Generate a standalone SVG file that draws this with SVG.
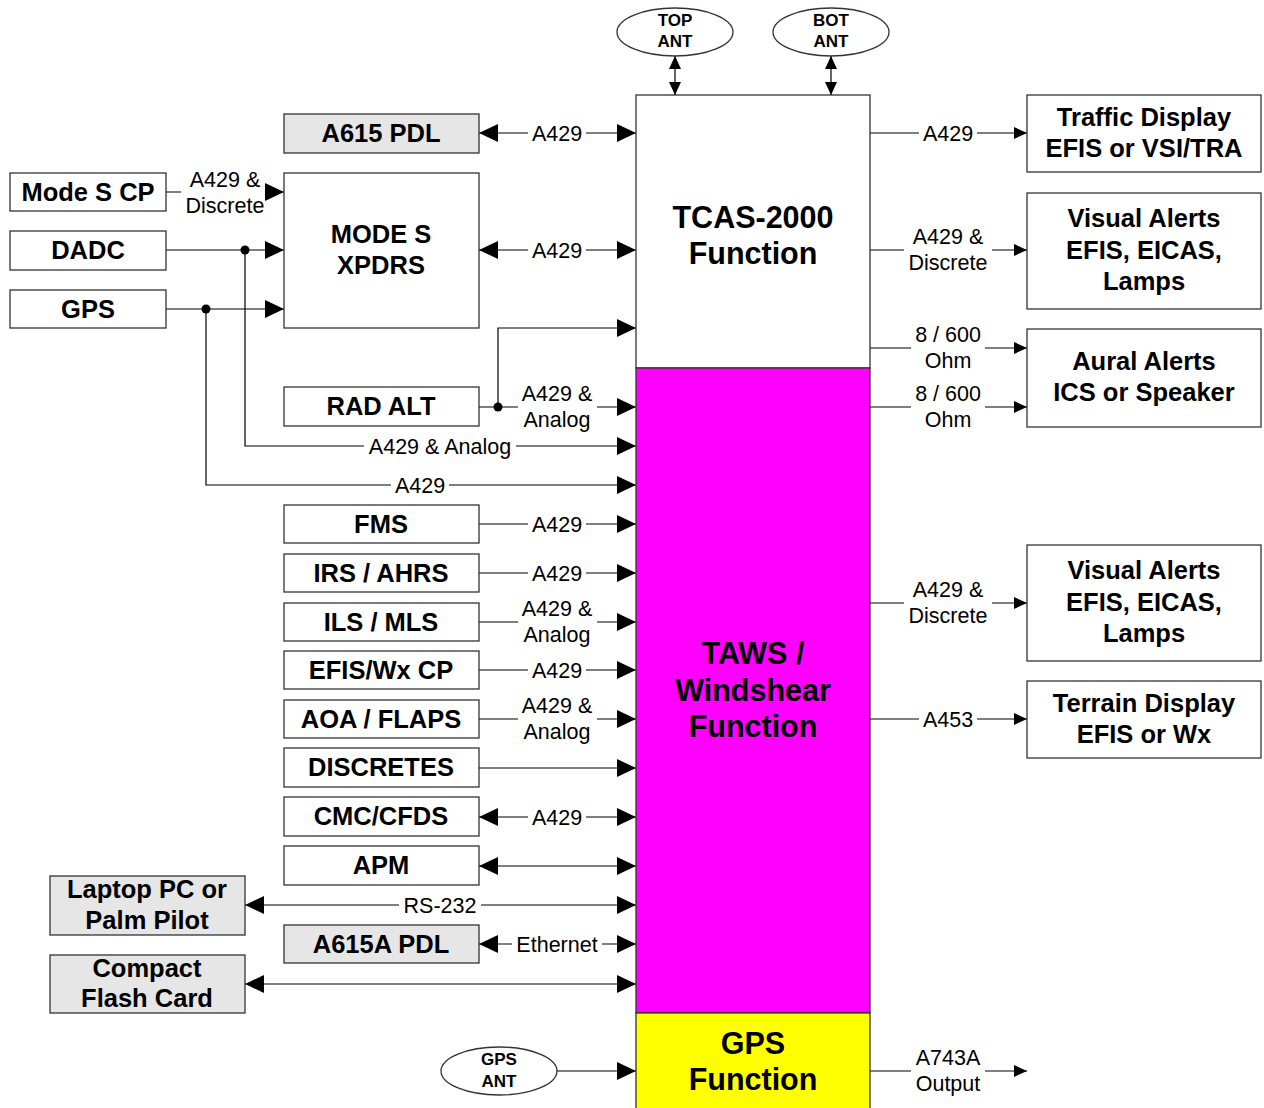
<svg xmlns="http://www.w3.org/2000/svg" width="1264" height="1108" viewBox="0 0 1264 1108">
<style>
.box{fill:#fff;stroke:#333;stroke-width:1.3}
.gbox{fill:#e6e6e6;stroke:#333;stroke-width:1.3}
.bt{font-family:"Liberation Sans",Arial,sans-serif;font-weight:bold;font-size:25.5px;text-anchor:middle;fill:#000}
.ct{font-family:"Liberation Sans",Arial,sans-serif;font-weight:bold;font-size:30.5px;text-anchor:middle;fill:#000}
.et{font-family:"Liberation Sans",Arial,sans-serif;font-weight:bold;font-size:17px;text-anchor:middle;fill:#000}
.lt{font-family:"Liberation Sans",Arial,sans-serif;font-size:21.5px;text-anchor:middle;fill:#000}
.bg{fill:#fff}
.ln{fill:none;stroke:#000;stroke-width:1.2}
.a{marker-end:url(#arr)}
.aa{marker-end:url(#arr);marker-start:url(#arr)}
.s{marker-end:url(#arrS)}
.ss{marker-end:url(#arrS);marker-start:url(#arrS)}
</style>
<defs>
<marker id="arr" markerUnits="userSpaceOnUse" markerWidth="19" markerHeight="18" refX="19" refY="9" orient="auto-start-reverse"><path d="M0,0 L19,9 L0,18 z" fill="#000"/></marker>
<marker id="arrS" markerUnits="userSpaceOnUse" markerWidth="13" markerHeight="12" refX="13" refY="6" orient="auto-start-reverse"><path d="M0,0 L13,6 L0,12 z" fill="#000"/></marker>
</defs>
<rect width="1264" height="1108" fill="#fff"/>

<g id="connectors">
<line class="ln aa" x1="479" y1="133" x2="636" y2="133"/>
<line class="ln a" x1="166" y1="192" x2="284" y2="192"/>
<line class="ln a" x1="166" y1="250" x2="284" y2="250"/>
<line class="ln a" x1="166" y1="309" x2="284" y2="309"/>
<polyline class="ln a" points="245,250 245,446 636,446"/>
<polyline class="ln a" points="206,309 206,485 636,485"/>
<circle cx="245" cy="250" r="4.5" fill="#000"/>
<circle cx="206" cy="309" r="4.5" fill="#000"/>
<line class="ln aa" x1="479" y1="250" x2="636" y2="250"/>
<line class="ln a" x1="479" y1="407" x2="636" y2="407"/>
<polyline class="ln a" points="498,407 498,328 636,328"/>
<circle cx="498" cy="407" r="4.5" fill="#000"/>
<line class="ln a" x1="479" y1="524" x2="636" y2="524"/>
<line class="ln a" x1="479" y1="573" x2="636" y2="573"/>
<line class="ln a" x1="479" y1="622" x2="636" y2="622"/>
<line class="ln a" x1="479" y1="670" x2="636" y2="670"/>
<line class="ln a" x1="479" y1="719" x2="636" y2="719"/>
<line class="ln a" x1="479" y1="768" x2="636" y2="768"/>
<line class="ln aa" x1="479" y1="817" x2="636" y2="817"/>
<line class="ln aa" x1="479" y1="866" x2="636" y2="866"/>
<line class="ln aa" x1="245" y1="905" x2="636" y2="905"/>
<line class="ln aa" x1="479" y1="944" x2="636" y2="944"/>
<line class="ln aa" x1="245" y1="984" x2="636" y2="984"/>
<line class="ln a" x1="557" y1="1071" x2="636" y2="1071"/>
<line class="ln ss" x1="675" y1="56" x2="675" y2="95"/>
<line class="ln ss" x1="831" y1="56" x2="831" y2="95"/>
<line class="ln s" x1="870" y1="133" x2="1027" y2="133"/>
<line class="ln s" x1="870" y1="250" x2="1027" y2="250"/>
<line class="ln s" x1="870" y1="348" x2="1027" y2="348"/>
<line class="ln s" x1="870" y1="407" x2="1027" y2="407"/>
<line class="ln s" x1="870" y1="603" x2="1027" y2="603"/>
<line class="ln s" x1="870" y1="719" x2="1027" y2="719"/>
<line class="ln s" x1="870" y1="1071" x2="1027" y2="1071"/>

<rect class="bg" x="528" y="130" width="58" height="6"/>
<rect class="bg" x="181" y="189" width="84" height="6"/>
<rect class="bg" x="528" y="247" width="58" height="6"/>
<rect class="bg" x="518" y="404" width="79" height="6"/>
<rect class="bg" x="364" y="443" width="152" height="6"/>
<rect class="bg" x="391" y="482" width="58" height="6"/>
<rect class="bg" x="528" y="521" width="58" height="6"/>
<rect class="bg" x="528" y="570" width="58" height="6"/>
<rect class="bg" x="518" y="619" width="79" height="6"/>
<rect class="bg" x="528" y="667" width="58" height="6"/>
<rect class="bg" x="518" y="716" width="79" height="6"/>
<rect class="bg" x="528" y="814" width="58" height="6"/>
<rect class="bg" x="399" y="902" width="82" height="6"/>
<rect class="bg" x="512" y="941" width="90" height="6"/>
<rect class="bg" x="919" y="130" width="58" height="6"/>
<rect class="bg" x="904" y="247" width="88" height="6"/>
<rect class="bg" x="911" y="345" width="74" height="6"/>
<rect class="bg" x="911" y="404" width="74" height="6"/>
<rect class="bg" x="904" y="600" width="88" height="6"/>
<rect class="bg" x="919" y="716" width="58" height="6"/>
<rect class="bg" x="911" y="1068" width="74" height="6"/>

<text class="lt" x="557" y="141">A429</text>
<text class="lt" x="225" y="187">A429 &amp;</text>
<text class="lt" x="225" y="213">Discrete</text>
<text class="lt" x="557" y="258">A429</text>
<text class="lt" x="557" y="401">A429 &amp;</text>
<text class="lt" x="557" y="427">Analog</text>
<text class="lt" x="440" y="454">A429 &amp; Analog</text>
<text class="lt" x="420" y="493">A429</text>
<text class="lt" x="557" y="532">A429</text>
<text class="lt" x="557" y="581">A429</text>
<text class="lt" x="557" y="616">A429 &amp;</text>
<text class="lt" x="557" y="642">Analog</text>
<text class="lt" x="557" y="678">A429</text>
<text class="lt" x="557" y="713">A429 &amp;</text>
<text class="lt" x="557" y="739">Analog</text>
<text class="lt" x="557" y="825">A429</text>
<text class="lt" x="440" y="913">RS-232</text>
<text class="lt" x="557" y="952">Ethernet</text>
<text class="lt" x="948" y="141">A429</text>
<text class="lt" x="948" y="244">A429 &amp;</text>
<text class="lt" x="948" y="270">Discrete</text>
<text class="lt" x="948" y="342">8 / 600</text>
<text class="lt" x="948" y="368">Ohm</text>
<text class="lt" x="948" y="401">8 / 600</text>
<text class="lt" x="948" y="427">Ohm</text>
<text class="lt" x="948" y="597">A429 &amp;</text>
<text class="lt" x="948" y="623">Discrete</text>
<text class="lt" x="948" y="727">A453</text>
<text class="lt" x="948" y="1065">A743A</text>
<text class="lt" x="948" y="1091">Output</text>
</g>

<g id="tcas"><rect x="636" y="95" width="234" height="273" class="box"/><text class="ct" x="753" y="228">TCAS-2000</text><text class="ct" x="753" y="264">Function</text></g>
<g id="taws"><rect x="636" y="368" width="234" height="645" fill="#ff00ff" stroke="#333" stroke-width="1.3"/><text class="ct" x="753" y="664">TAWS /</text><text class="ct" x="753" y="701">Windshear</text><text class="ct" x="753" y="737">Function</text></g>
<g id="gpsfn"><rect x="636" y="1013" width="234" height="100" fill="#ffff00" stroke="#333" stroke-width="1.3"/><text class="ct" x="753" y="1054">GPS</text><text class="ct" x="753" y="1090">Function</text></g>

<g id="topant"><ellipse cx="675" cy="32" rx="58" ry="24" class="box"/><text class="et" x="675" y="26">TOP</text><text class="et" x="675" y="47">ANT</text></g>
<g id="botant"><ellipse cx="831" cy="32" rx="58" ry="24" class="box"/><text class="et" x="831" y="26">BOT</text><text class="et" x="831" y="47">ANT</text></g>
<g id="gpsant"><ellipse cx="499" cy="1071" rx="58" ry="24" class="box"/><text class="et" x="499" y="1065">GPS</text><text class="et" x="499" y="1087">ANT</text></g>

<g id="a615"><rect x="284" y="114" width="195" height="39" class="gbox"/><text class="bt" x="381" y="142">A615 PDL</text></g>
<g id="modescp"><rect x="10" y="173" width="156" height="38" class="box"/><text class="bt" x="88" y="201">Mode S CP</text></g>
<g id="dadc"><rect x="10" y="231" width="156" height="39" class="box"/><text class="bt" x="88" y="259">DADC</text></g>
<g id="gps"><rect x="10" y="290" width="156" height="38" class="box"/><text class="bt" x="88" y="318">GPS</text></g>
<g id="modes"><rect x="284" y="173" width="195" height="155" class="box"/><text class="bt" x="381" y="243">MODE S</text><text class="bt" x="381" y="274">XPDRS</text></g>
<g id="radalt"><rect x="284" y="387" width="195" height="39" class="box"/><text class="bt" x="381" y="415">RAD ALT</text></g>
<g id="fms"><rect x="284" y="505" width="195" height="38" class="box"/><text class="bt" x="381" y="533">FMS</text></g>
<g id="irs"><rect x="284" y="554" width="195" height="38" class="box"/><text class="bt" x="381" y="582">IRS / AHRS</text></g>
<g id="ils"><rect x="284" y="603" width="195" height="38" class="box"/><text class="bt" x="381" y="631">ILS / MLS</text></g>
<g id="efis"><rect x="284" y="651" width="195" height="38" class="box"/><text class="bt" x="381" y="679">EFIS/Wx CP</text></g>
<g id="aoa"><rect x="284" y="700" width="195" height="38" class="box"/><text class="bt" x="381" y="728">AOA / FLAPS</text></g>
<g id="discretes"><rect x="284" y="748" width="195" height="39" class="box"/><text class="bt" x="381" y="776">DISCRETES</text></g>
<g id="cmc"><rect x="284" y="797" width="195" height="39" class="box"/><text class="bt" x="381" y="825">CMC/CFDS</text></g>
<g id="apm"><rect x="284" y="846" width="195" height="39" class="box"/><text class="bt" x="381" y="874">APM</text></g>
<g id="laptop"><rect x="50" y="876" width="195" height="59" class="gbox"/><text class="bt" x="147" y="898">Laptop PC or</text><text class="bt" x="147" y="929">Palm Pilot</text></g>
<g id="a615a"><rect x="284" y="925" width="195" height="38" class="gbox"/><text class="bt" x="381" y="953">A615A PDL</text></g>
<g id="cf"><rect x="50" y="955" width="195" height="58" class="gbox"/><text class="bt" x="147" y="977">Compact</text><text class="bt" x="147" y="1007">Flash Card</text></g>

<g id="traffic"><rect x="1027" y="95" width="234" height="77" class="box"/><text class="bt" x="1144" y="126">Traffic Display</text><text class="bt" x="1144" y="157">EFIS or VSI/TRA</text></g>
<g id="visual1"><rect x="1027" y="193" width="234" height="116" class="box"/><text class="bt" x="1144" y="227">Visual Alerts</text><text class="bt" x="1144" y="259">EFIS, EICAS,</text><text class="bt" x="1144" y="290">Lamps</text></g>
<g id="aural"><rect x="1027" y="329" width="234" height="98" class="box"/><text class="bt" x="1144" y="370">Aural Alerts</text><text class="bt" x="1144" y="401">ICS or Speaker</text></g>
<g id="visual2"><rect x="1027" y="545" width="234" height="116" class="box"/><text class="bt" x="1144" y="579">Visual Alerts</text><text class="bt" x="1144" y="611">EFIS, EICAS,</text><text class="bt" x="1144" y="642">Lamps</text></g>
<g id="terrain"><rect x="1027" y="681" width="234" height="77" class="box"/><text class="bt" x="1144" y="712">Terrain Display</text><text class="bt" x="1144" y="743">EFIS or Wx</text></g>
</svg>
